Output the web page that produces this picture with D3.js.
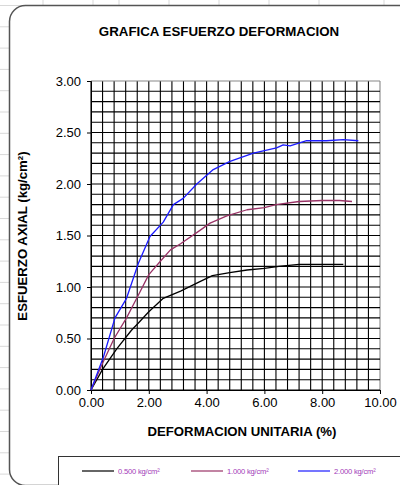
<!DOCTYPE html>
<html>
<head>
<meta charset="utf-8">
<style>
  body { margin: 0; background: #fff; }
  text { font-family: "Liberation Sans", Arial, sans-serif; }
</style>
</head>
<body></body>
<script src="https://d3js.org/d3.v7.min.js"></script>
<script>
  // data
  const xTicks = [0, 2, 4, 6, 8, 10]
  const yTicks = [0, 0.5, 1, 1.5, 2, 2.5, 3]

  const seriesNames = ['0.500 kg/cm²', '1.000 kg/cm²', '2.000 kg/cm²']
  const seriesColors = ['#000000', '#993366', '#1a1aff']

  const strain05 = [0, 0.4, 0.89, 1.4, 1.64, 2.0, 2.5, 3.1, 3.75, 4.2, 4.8, 5.4, 6.0, 6.5, 7.2, 8.0, 8.73]
  const stress05 = [0, 0.2, 0.40, 0.58, 0.65, 0.76, 0.89, 0.96, 1.05, 1.11, 1.14, 1.165, 1.18, 1.20, 1.22, 1.22, 1.22]

  const strain10 = [0, 0.4, 0.8, 1.23, 1.6, 2.0, 2.4, 2.75, 3.1, 3.77, 4.12, 4.7, 5.4, 6.0, 6.4, 7.2, 8.0, 8.6, 9.03]
  const stress10 = [0, 0.26, 0.5, 0.7, 0.9, 1.12, 1.25, 1.36, 1.42, 1.55, 1.62, 1.69, 1.75, 1.77, 1.80, 1.83, 1.84, 1.84, 1.83]

  const strain20 = [0, 0.43, 0.83, 1.23, 1.64, 2.04, 2.5, 2.85, 3.19, 3.66, 4.23, 4.81, 5.62, 6.42, 6.65, 6.89, 7.46, 8.15, 8.73, 9.25]
  const stress20 = [0, 0.32, 0.70, 0.89, 1.23, 1.49, 1.63, 1.80, 1.86, 2.0, 2.14, 2.22, 2.30, 2.35, 2.38, 2.37, 2.42, 2.42, 2.43, 2.42]

  const strains = [strain05, strain10, strain20]
  const stresses = [stress05, stress10, stress20]

  const width = 400
  const height = 485

  const svg = d3.select('body').append('svg')
    .attr('width', width)
    .attr('height', height)

  // spreadsheet cells behind the chart
  const sheetCols = [43, 93, 119, 169, 219, 269, 319, 384]
  const sheetRows = d3.range(0, 24).map(i => 5.5 + i * 21.3)
  svg.selectAll('.scol').data(sheetCols).enter().append('line')
    .attr('x1', d => d).attr('x2', d => d).attr('y1', 0).attr('y2', height)
    .attr('stroke', '#d9d9d9')
  svg.selectAll('.srow').data(sheetRows).enter().append('line')
    .attr('x1', 0).attr('x2', width).attr('y1', d => d).attr('y2', d => d)
    .attr('stroke', '#d9d9d9')

  // chart area
  svg.append('rect')
    .attr('x', 9.5).attr('y', 5.5)
    .attr('width', 430).attr('height', 480)
    .attr('rx', 16)
    .attr('fill', '#fff')
    .attr('stroke', '#555')
    .attr('stroke-width', 1.5)

  svg.append('text')
    .attr('x', 219).attr('y', 36)
    .attr('text-anchor', 'middle')
    .attr('font-size', 13.3).attr('font-weight', 'bold')
    .text('GRAFICA ESFUERZO DEFORMACION')

  const x = d3.scaleLinear().domain([0, 10]).range([91, 380])
  const y = d3.scaleLinear().domain([0, 3]).range([390, 81])

  // grid
  const g = svg.append('g')
  g.selectAll('.vg').data(d3.range(0, 10.01, 0.4)).enter().append('line')
    .attr('x1', d => x(d)).attr('x2', d => x(d))
    .attr('y1', y(3)).attr('y2', y(0))
    .attr('stroke', d => d > 9.9 ? '#888' : '#000')
    .attr('stroke-width', 1.1)
  g.selectAll('.hg').data(d3.range(0, 3.001, 0.1)).enter().append('line')
    .attr('x1', x(0)).attr('x2', x(10))
    .attr('y1', d => y(d)).attr('y2', d => y(d))
    .attr('stroke', d => d > 2.99 ? '#888' : '#000')
    .attr('stroke-width', 1.1)

  // axes
  const yAxis = d3.axisLeft(y).tickValues(yTicks).tickFormat(d3.format('.2f')).tickSize(4).tickPadding(6)
  const xAxis = d3.axisBottom(x).tickValues(xTicks).tickFormat(d3.format('.2f')).tickSize(4).tickPadding(4)
  const ya = svg.append('g').attr('transform', `translate(${x(0)},0)`).call(yAxis)
  const xa = svg.append('g').attr('transform', `translate(0,${y(0)})`).call(xAxis)
  ;[ya, xa].forEach(a => {
    a.select('.domain').attr('stroke', '#000')
    a.selectAll('text').attr('font-size', 13).attr('fill', '#000')
      .attr('font-family', '"Liberation Sans", Arial, sans-serif')
  })

  svg.append('text')
    .attr('x', 242).attr('y', 436)
    .attr('text-anchor', 'middle')
    .attr('font-size', 13.2).attr('font-weight', 'bold')
    .text('DEFORMACION UNITARIA (%)')

  svg.append('text')
    .attr('transform', 'translate(27,236) rotate(-90)')
    .attr('text-anchor', 'middle')
    .attr('font-size', 13.2).attr('font-weight', 'bold')
    .text('ESFUERZO AXIAL (kg/cm²)')

  // curves
  const line = d3.line().x(d => x(d[0])).y(d => y(d[1]))
  strains.forEach((s, i) => {
    svg.append('path')
      .datum(s.map((v, j) => [v, stresses[i][j]]))
      .attr('d', line)
      .attr('fill', 'none')
      .attr('stroke', seriesColors[i])
      .attr('stroke-width', 1.3)
      .attr('stroke-linejoin', 'round')
  })

  // legend
  svg.append('rect')
    .attr('x', 58.5).attr('y', 456.5)
    .attr('width', 360).attr('height', 40)
    .attr('fill', '#fff')
    .attr('stroke', '#333')
    .attr('stroke-width', 1)
  const legX = [82, 191, 298]
  seriesNames.forEach((name, i) => {
    svg.append('line')
      .attr('x1', legX[i]).attr('x2', legX[i] + 32)
      .attr('y1', 471).attr('y2', 471)
      .attr('stroke', seriesColors[i]).attr('stroke-width', 1.2)
    svg.append('text')
      .attr('x', legX[i] + 36).attr('y', 473.5)
      .attr('font-size', 7.6)
      .attr('letter-spacing', -0.2)
      .attr('fill', '#a23ab8')
      .text(name)
  })
</script>
</html>
